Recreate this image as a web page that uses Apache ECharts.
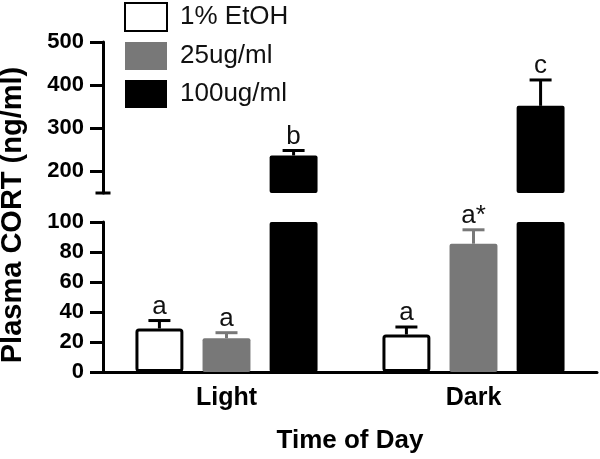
<!DOCTYPE html>
<html>
<head>
<meta charset="utf-8">
<script src="https://cdn.jsdelivr.net/npm/echarts@6/dist/echarts.min.js"></script>
<style>html,body{margin:0;padding:0;background:#fff}#c{width:600px;height:459px}</style>
</head>
<body>
<div id="c"></div>
<script>
// ---- data ----
const categories = ['Light', 'Dark'];
const seriesNames = ['1% EtOH', '25ug/ml', '100ug/ml'];
const etohMean = [29, 25];
const etohSem = [5.3, 5];
const lowMean = [22.5, 85.5];
const lowSem = [3.7, 9.3];
const highMean = [237, 352];
const highSem = [11.5, 60];
const etohLetters = ['a', 'a'];
const lowLetters = ['a', 'a*'];
const highLetters = ['b', 'c'];
const upperTicks = [200, 300, 400, 500];
const yTitle = 'Plasma CORT (ng/ml)';
const xTitle = 'Time of Day';

const means = [etohMean, lowMean, highMean];
const sems = [etohSem, lowSem, highSem];
const letters = [etohLetters, lowLetters, highLetters];
const fills = ['#ffffff', '#787878', '#000000'];
const errColors = ['#000000', '#787878', '#000000'];

const UPPER_MIN = 150, UPPER_MAX = 500, LOWER_MAX = 100;
const BAR_W = 0.194, BAR_GAP = 0.4;
const FONT = '"Liberation Sans", Arial, Helvetica, sans-serif';

function errData(inGrid) {
  const out = [], labs = [];
  for (let s = 0; s < 3; s++) {
    for (let c = 0; c < categories.length; c++) {
      const m = means[s][c], e = sems[s][c];
      if (inGrid(m, e)) { out.push([c, s, m, e]); labs.push(letters[s][c]); }
    }
  }
  return { data: out, labs: labs };
}
const upperErr = errData((m, e) => m >= UPPER_MIN);
const lowerErr = errData((m, e) => m + e <= LOWER_MAX);

function makeRender(labs) {
  return function (params, api) {
    const cat = api.value(0), si = api.value(1), m = api.value(2), e = api.value(3);
    const band = api.size([1, 0])[0];
    const bw = band * BAR_W;
    const step = bw * (1 + BAR_GAP);
    const base = api.coord([cat, m]);
    const x = base[0] + (si - 1) * step;
    const yBar = base[1];
    const yTop = api.coord([cat, m + e])[1];
    const col = errColors[si];
    const capHalf = 11;
    return {
      type: 'group',
      children: [
        { type: 'line', shape: { x1: x, y1: yBar, x2: x, y2: yTop }, style: { stroke: col, lineWidth: 3 } },
        { type: 'line', shape: { x1: x - capHalf, y1: yTop, x2: x + capHalf, y2: yTop }, style: { stroke: col, lineWidth: 3 } },
        { type: 'text', x: x, y: yTop - 1, style: { text: labs[params.dataIndex], fontSize: 26, fontFamily: FONT, fill: '#111', align: 'center', verticalAlign: 'bottom' } }
      ]
    };
  };
}

const series = [];
for (let s = 0; s < 3; s++) {
  const style = { color: fills[s], borderColor: s === 0 ? '#000' : fills[s], borderWidth: s === 0 ? 3 : 0, borderRadius: 2 };
  series.push({
    name: seriesNames[s], type: 'bar', xAxisIndex: 0, yAxisIndex: 0,
    barWidth: (BAR_W * 100) + '%', barGap: (BAR_GAP * 100) + '%',
    data: means[s].map(v => v >= UPPER_MIN ? v : '-'),
    itemStyle: style, clip: true, silent: true
  });
  series.push({
    name: seriesNames[s], type: 'bar', xAxisIndex: 1, yAxisIndex: 1,
    barWidth: (BAR_W * 100) + '%', barGap: (BAR_GAP * 100) + '%',
    data: means[s].slice(),
    itemStyle: style, clip: true, silent: true
  });
}
series.push({ type: 'custom', xAxisIndex: 0, yAxisIndex: 0, data: upperErr.data, renderItem: makeRender(upperErr.labs), z: 5, silent: true });
series.push({ type: 'custom', xAxisIndex: 1, yAxisIndex: 1, data: lowerErr.data, renderItem: makeRender(lowerErr.labs), z: 5, silent: true });

const axisLabelStyle = { color: '#000', fontFamily: FONT, fontWeight: 'bold', fontSize: 22, margin: 19 };
const axisLineStyle = { color: '#000', width: 3 };

const option = {
  animation: false,
  backgroundColor: '#fff',
  grid: [
    { left: 103, top: 42, width: 494, height: 151 },
    { left: 103, top: 222, width: 494, height: 150 }
  ],
  legend: {
    data: seriesNames, orient: 'vertical', left: 119, top: -3,
    itemWidth: 42, itemHeight: 28, itemGap: 10, icon: 'rect',
    textStyle: { fontFamily: FONT, fontSize: 26, color: '#111', padding: [0, 0, 0, 8] },
    selectedMode: false
  },
  xAxis: [
    { type: 'category', gridIndex: 0, data: categories, show: false },
    {
      type: 'category', gridIndex: 1, data: categories,
      axisLine: { lineStyle: axisLineStyle },
      axisTick: { alignWithLabel: true, length: 12, lineStyle: { color: '#000', width: 3 } },
      axisLabel: { color: '#000', fontFamily: FONT, fontWeight: 'bold', fontSize: 25, margin: 14 },
      name: xTitle, nameLocation: 'middle', nameGap: 56,
      nameTextStyle: { color: '#000', fontFamily: FONT, fontWeight: 'bold', fontSize: 26 }
    }
  ],
  yAxis: [
    {
      type: 'value', gridIndex: 0, min: UPPER_MIN, max: UPPER_MAX,
      axisLine: { show: true, lineStyle: axisLineStyle, symbol: ['rect', 'none'], symbolSize: [15, 3] },
      axisTick: { show: true, length: 13, lineStyle: { color: '#000', width: 3 }, customValues: upperTicks },
      axisLabel: Object.assign({ customValues: upperTicks }, axisLabelStyle),
      splitLine: { show: false }
    },
    {
      type: 'value', gridIndex: 1, min: 0, max: LOWER_MAX, interval: 20,
      axisLine: { show: true, lineStyle: axisLineStyle },
      axisTick: { show: true, length: 13, lineStyle: { color: '#000', width: 3 } },
      axisLabel: axisLabelStyle,
      splitLine: { show: false }
    }
  ],
  graphic: [
    {
      type: 'text', x: 13, y: 215, rotation: Math.PI / 2,
      style: { text: yTitle, fontFamily: FONT, fontWeight: 'bold', fontSize: 29, fill: '#000', align: 'center', verticalAlign: 'middle' }
    }
  ],
  series: series
};

const chart = echarts.init(document.getElementById('c'), null, { renderer: 'canvas' });
chart.setOption(option);
</script>
</body>
</html>
